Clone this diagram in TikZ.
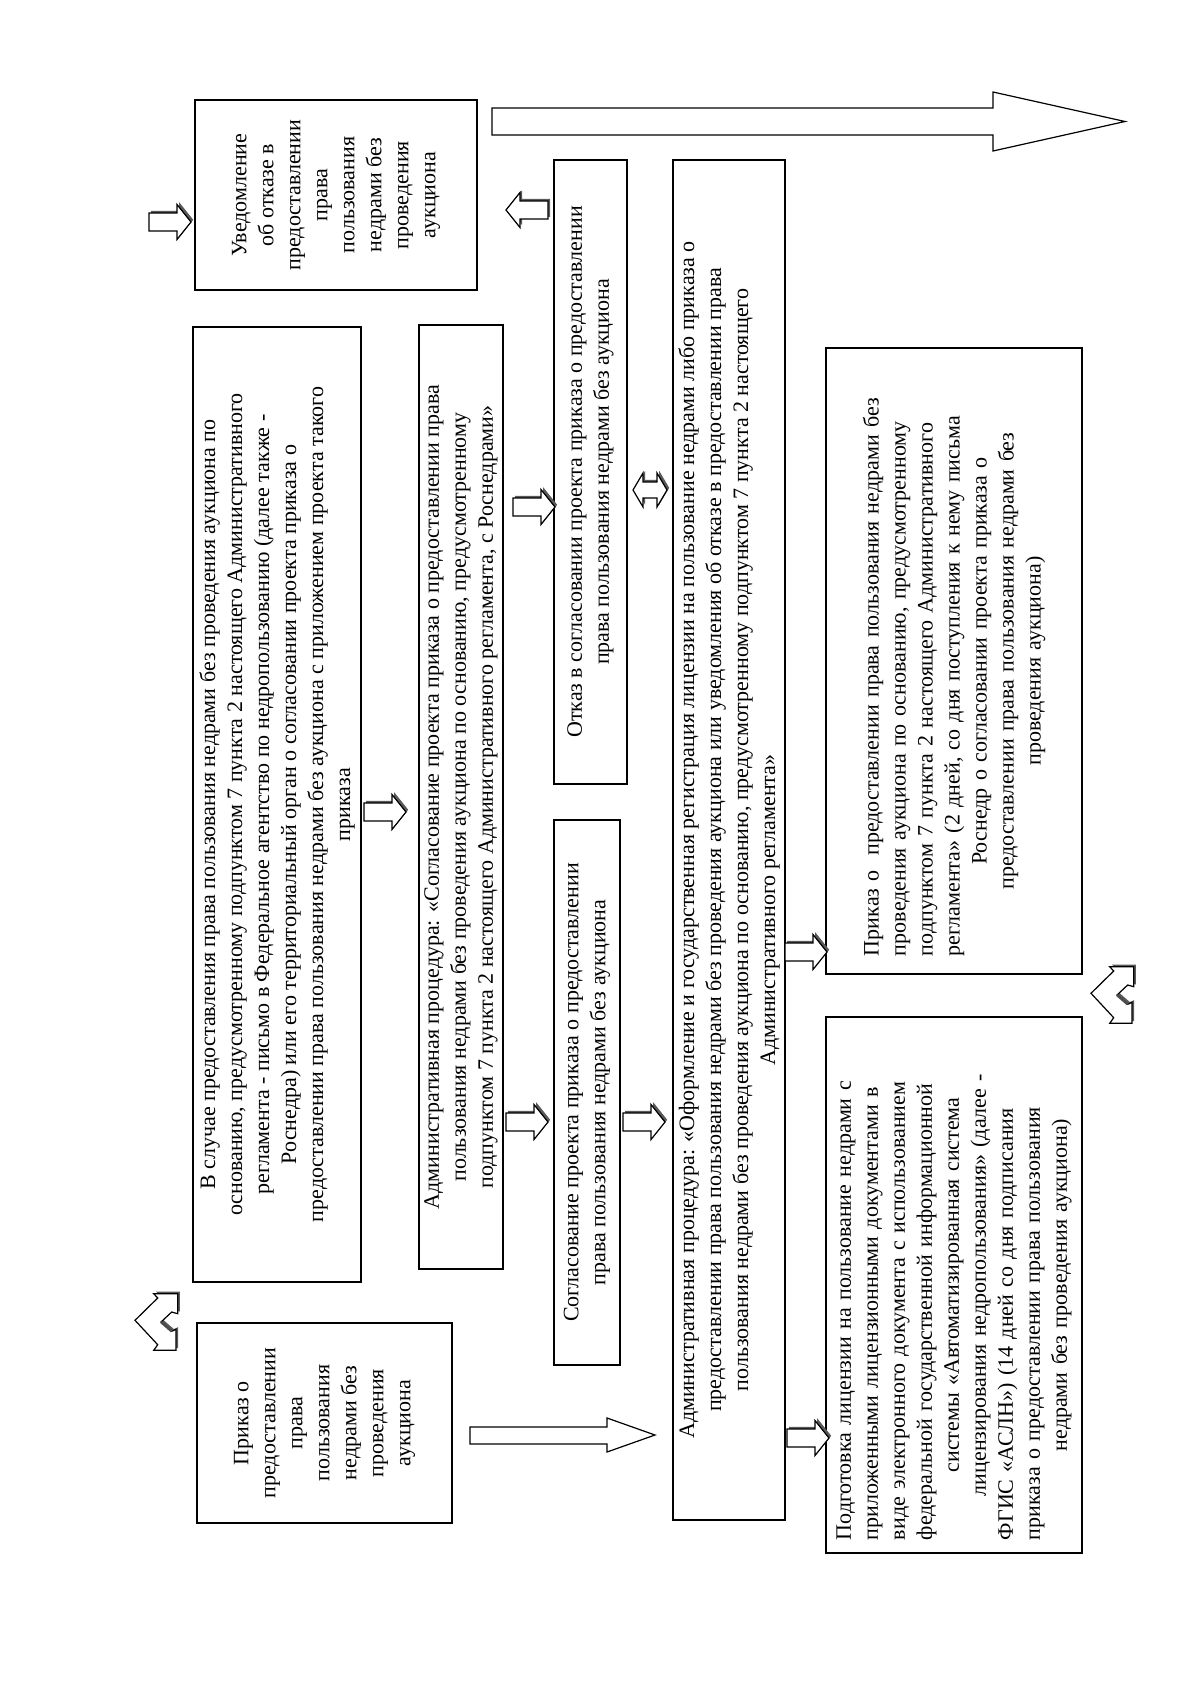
\documentclass[tikz,border=0pt]{standalone}
\usepackage{fontspec}
\setmainfont{Liberation Serif}
\newcommand\boxfont{\fontsize{22}{27}\selectfont}
\newcommand\jl[2]{\makebox[#1][s]{#2}}
\tikzset{
  box/.style={draw, line width=1.2pt, rotate=90, inner sep=2pt, font=\boxfont, align=center},
  arr/.style={draw, line width=1.2pt, fill=white, line join=miter},
  shd/.style={fill=black!65, shift={(2.2,-2.2)}},
  sarr/.pic={\fill[shd] (-21,-9) -- (7,-9) -- (7,-17.5) -- (21,0) -- (7,17.5) -- (7,9) -- (-21,9) -- cycle;
    \draw[arr] (-21,-9) -- (7,-9) -- (7,-17.5) -- (21,0) -- (7,17.5) -- (7,9) -- (-21,9) -- cycle;},
  sarrl/.pic={\fill[shd] (21,-9) -- (-7,-9) -- (-7,-17.5) -- (-21,0) -- (-7,17.5) -- (-7,9) -- (21,9) -- cycle;
    \draw[arr] (21,-9) -- (-7,-9) -- (-7,-17.5) -- (-21,0) -- (-7,17.5) -- (-7,9) -- (21,9) -- cycle;},
  darr/.pic={\fill[shd] (-17,0) -- (-7,-17) -- (-7,-8) -- (7,-8) -- (7,-17) -- (17,0) -- (7,17) -- (7,8) -- (-7,8) -- (-7,17) -- cycle;
    \draw[arr] (-17,0) -- (-7,-17) -- (-7,-8) -- (7,-8) -- (7,-17) -- (17,0) -- (7,17) -- (7,8) -- (-7,8) -- (-7,17) -- cycle;},
  uturn/.pic={\fill[shd] (21.7,-28.3) -- (-2.3,-28.3) -- (1.7,-24) -- (-21,-1.7) -- (1.7,22.7) -- (-2.3,28.3) -- (20,28.3) -- (20,7.3) -- (15.7,9.3) -- (5,0) -- (15.7,-10) -- (21.7,-8.3) -- cycle;
    \draw[arr] (21.7,-28.3) -- (-2.3,-28.3) -- (1.7,-24) -- (-21,-1.7) -- (1.7,22.7) -- (-2.3,28.3) -- (20,28.3) -- (20,7.3) -- (15.7,9.3) -- (5,0) -- (15.7,-10) -- (21.7,-8.3) -- cycle;
    \draw[line width=2.5pt, black!70] (15.7,9.3) -- (5,0);},
}
\begin{document}
\begin{tikzpicture}[x=1pt,y=-1pt]
\useasboundingbox (0,0) rectangle (1200,1697);
\fill[white] (0,0) rectangle (1200,1697);

% boxes
\node[box, minimum width=190, minimum height=282] (A) at (336,195)
 {Уведомление\\об отказе в\\предоставлении\\права\\пользования\\недрами без\\проведения\\аукциона};
\node[box, minimum width=955, minimum height=168] (B) at (277,804.5)
 {В случае предоставления права пользования недрами без проведения аукциона по\\основанию, предусмотренному подпунктом 7 пункта 2 настоящего Административного\\регламента - письмо в Федеральное агентство по недропользованию (далее также -\\Роснедра) или его территориальный орган о согласовании проекта приказа о\\предоставлении права пользования недрами без аукциона с приложением проекта такого\\приказа};
\node[box, minimum width=944, minimum height=84] (C) at (461,797)
 {Административная процедура: «Согласование проекта приказа о предоставлении права\\пользования недрами без проведения аукциона по основанию, предусмотренному\\подпунктом 7 пункта 2 настоящего Административного регламента, с Роснедрами»};
\node[box, minimum width=545, minimum height=66] (D) at (587,1092.5)
 {Согласование проекта приказа о предоставлении\\права пользования недрами без аукциона};
\node[box, minimum width=624, minimum height=73] (E) at (590.5,472)
 {Отказ в согласовании проекта приказа о предоставлении\\права пользования недрами без аукциона};
\node[box, minimum width=1360, minimum height=112] (F) at (729,840)
 {Административная процедура: «Оформление и государственная регистрация лицензии на пользование недрами либо приказа о\\предоставлении права пользования недрами без проведения аукциона или уведомления об отказе в предоставлении права\\пользования недрами без проведения аукциона по основанию, предусмотренному подпунктом 7 пункта 2 настоящего\\Административного регламента»\hspace*{140pt}};
\node[box, minimum width=200, minimum height=255] (G) at (324.5,1423)
 {Приказ о\\предоставлении\\права\\пользования\\недрами без\\проведения\\аукциона};
\node[box, minimum width=626, minimum height=256, text width=590] (H) at (954,661)
 {\jl{590pt}{Приказ о\ \ предоставлении права пользования недрами без}\\
  \jl{590pt}{проведения аукциона по основанию, предусмотренному}\\
  \jl{590pt}{подпунктом 7 пункта 2 настоящего Административного}\\
  \jl{590pt}{регламента» (2 дней, со дня поступления к нему письма}\\
  Роснедр о согласовании проекта приказа о\\
  предоставлении права пользования недрами без\\
  проведения аукциона)};
\node[box, minimum width=536, minimum height=256, text width=510] (I) at (954,1285)
 {\jl{510pt}{Подготовка лицензии на пользование недрами с}\\
  \jl{510pt}{приложенными лицензионными документами в}\\
  \jl{510pt}{виде электронного документа с использованием}\\
  \jl{510pt}{федеральной государственной информационной}\\
  системы «Автоматизированная система\\
  лицензирования недропользования» (далее -\\
  \jl{510pt}{ФГИС «АСЛН») (14 дней со дня подписания}\\
  \jl{510pt}{приказа о предоставлении права пользования}\\
  недрами без проведения аукциона)};

% big block arrows
\draw[arr] (492,108) -- (993,108) -- (993,92) -- (1125,121.5) -- (993,151) -- (993,135) -- (492,135) -- cycle;
\draw[arr] (470,1427) -- (607,1427) -- (607,1418) -- (655,1435) -- (607,1452) -- (607,1444) -- (470,1444) -- cycle;

% small block arrows
\pic at (170,222) {sarr};
\pic at (385,812) {sarr};
\pic at (527,1122) {sarr};
\pic at (534,507) {sarr};
\pic at (527,210) {sarrl};
\pic at (650,490) {darr};
\pic at (644,1122) {sarr};
\pic at (806,952) {sarr};
\pic at (808,1438) {sarr};

% u-turn arrows
\pic at (156,1322) {uturn};
\pic at (1112,995) {uturn};
\end{tikzpicture}
\end{document}
